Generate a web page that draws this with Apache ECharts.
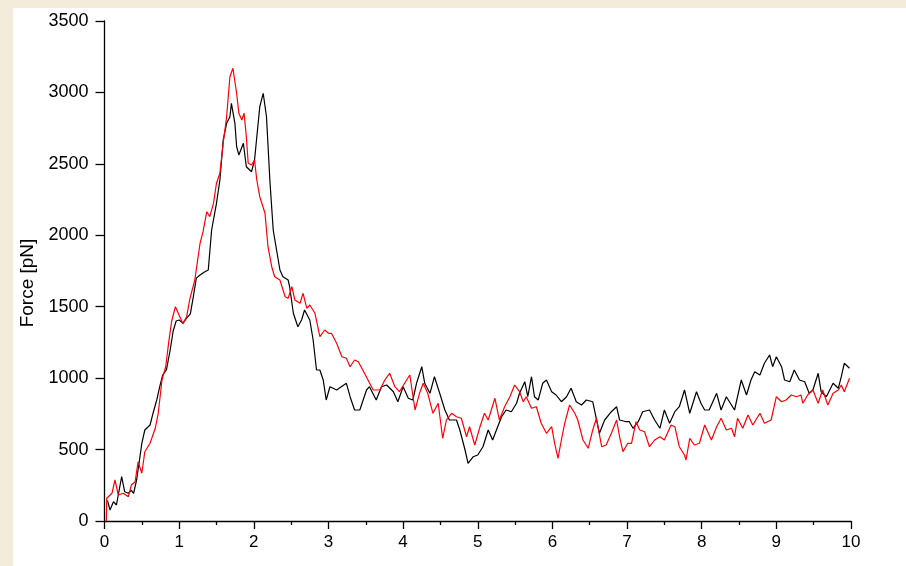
<!DOCTYPE html>
<html>
<head>
<meta charset="utf-8">
<script src="https://cdn.jsdelivr.net/npm/echarts@6/dist/echarts.min.js"></script>
<style>
  html, body { margin: 0; padding: 0; width: 906px; height: 566px; overflow: hidden; background: #f4ecda; }
  #chart { position: absolute; left: 13px; top: 8px; width: 893px; height: 558px; background: #ffffff; }
</style>
</head>
<body>
<div id="chart"></div>
<script>
// Force traces: [time, force in pN]
const traceBlack = [
  [0.04,142],[0.074,77],[0.12,135],[0.16,112],[0.23,310],[0.27,205],[0.32,194],[0.36,215],[0.39,194],[0.43,287],
  [0.475,450],[0.5,544],[0.54,637],[0.61,672],[0.65,754],[0.7,847],[0.74,940],[0.78,1022],[0.83,1060],[0.88,1197],
  [0.92,1330],[0.96,1400],[1.0,1407],[1.05,1385],[1.1,1420],[1.15,1450],[1.19,1570],[1.23,1700],[1.28,1722],[1.345,1745],
  [1.39,1757],[1.435,2037],[1.5,2224],[1.546,2387],[1.59,2667],[1.636,2784],[1.68,2830],[1.70,2924],[1.747,2784],[1.77,2620],
  [1.80,2562],[1.86,2644],[1.90,2480],[1.97,2445],[2.01,2527],[2.08,2900],[2.126,2994],[2.17,2830],[2.215,2387],[2.26,2037],
  [2.305,1897],[2.35,1757],[2.39,1710],[2.46,1687],[2.48,1640],[2.53,1454],[2.59,1360],[2.64,1407],[2.68,1477],[2.75,1407],
  [2.795,1267],[2.84,1057],[2.885,1057],[2.93,987],[2.97,847],[3.02,940],[3.11,917],[3.24,964],[3.29,870],[3.35,777],
  [3.42,777],[3.51,917],[3.55,940],[3.64,847],[3.71,940],[3.78,952],[3.87,905],[3.93,835],[4.0,940],[4.07,859],
  [4.13,847],[4.18,964],[4.25,1080],[4.29,964],[4.36,894],[4.42,1010],[4.49,894],[4.56,777],[4.62,707],[4.715,707],
  [4.76,637],[4.83,497],[4.87,404],[4.94,450],[5.0,462],[5.07,520],[5.14,637],[5.2,567],[5.25,637],[5.32,730],
  [5.38,777],[5.45,765],[5.52,824],[5.56,894],[5.63,975],[5.67,870],[5.72,1010],[5.76,870],[5.81,847],[5.87,964],
  [5.92,987],[5.99,905],[6.05,882],[6.12,835],[6.19,870],[6.25,929],[6.32,835],[6.39,812],[6.455,847],[6.54,835],
  [6.63,614],[6.70,707],[6.79,765],[6.86,800],[6.90,707],[6.99,695],[7.03,695],[7.08,649],[7.15,695],[7.21,765],
  [7.30,777],[7.37,707],[7.44,649],[7.50,777],[7.57,684],[7.64,765],[7.70,800],[7.77,917],[7.84,754],[7.93,905],
  [7.99,824],[8.04,777],[8.10,777],[8.20,894],[8.26,777],[8.33,870],[8.44,777],[8.53,987],[8.60,882],[8.66,987],
  [8.71,1045],[8.78,1022],[8.84,1104],[8.91,1162],[8.95,1080],[9.0,1150],[9.07,1080],[9.11,987],[9.18,975],[9.24,1057],
  [9.31,987],[9.38,975],[9.44,894],[9.49,917],[9.56,1034],[9.60,905],[9.67,870],[9.76,964],[9.83,929],[9.87,1010],
  [9.91,1104],[9.98,1069]
];

const traceRed = [
  [0.025,0],[0.03,159],[0.10,194],[0.14,287],[0.185,182],[0.25,194],[0.32,170],[0.36,252],[0.41,275],[0.45,415],
  [0.50,334],[0.54,485],[0.61,544],[0.68,649],[0.72,754],[0.77,987],[0.82,1080],[0.86,1250],[0.9,1400],[0.95,1500],
  [1.0,1440],[1.05,1380],[1.1,1430],[1.145,1559],[1.21,1687],[1.28,1944],[1.32,2025],[1.37,2165],[1.41,2130],[1.46,2224],
  [1.50,2364],[1.546,2434],[1.59,2644],[1.636,2830],[1.68,3110],[1.72,3169],[1.77,2994],[1.80,2854],[1.84,2807],[1.87,2854],
  [1.90,2690],[1.925,2504],[1.97,2492],[2.01,2527],[2.04,2387],[2.08,2270],[2.15,2154],[2.19,1920],[2.24,1780],[2.28,1710],
  [2.35,1687],[2.42,1570],[2.46,1559],[2.51,1640],[2.55,1547],[2.62,1524],[2.66,1594],[2.71,1489],[2.75,1512],[2.82,1454],
  [2.885,1290],[2.95,1337],[3.0,1314],[3.04,1314],[3.11,1244],[3.18,1150],[3.24,1139],[3.29,1080],[3.35,1127],[3.40,1115],
  [3.46,1057],[3.53,987],[3.60,917],[3.69,917],[3.755,987],[3.82,1034],[3.89,940],[3.95,905],[4.02,964],[4.09,1022],
  [4.16,777],[4.22,894],[4.27,964],[4.33,894],[4.40,754],[4.47,824],[4.53,579],[4.58,707],[4.65,754],[4.715,730],
  [4.78,719],[4.85,590],[4.89,660],[4.96,532],[5.03,660],[5.09,754],[5.14,707],[5.23,859],[5.29,707],[5.36,800],
  [5.43,870],[5.495,952],[5.56,905],[5.61,835],[5.65,870],[5.72,789],[5.785,800],[5.85,684],[5.92,614],[5.99,660],
  [6.03,544],[6.075,439],[6.12,567],[6.165,684],[6.23,812],[6.30,754],[6.34,707],[6.41,567],[6.48,509],[6.54,637],
  [6.59,719],[6.66,520],[6.72,532],[6.79,614],[6.86,707],[6.90,590],[6.945,485],[7.01,544],[7.06,544],[7.12,695],
  [7.17,637],[7.235,625],[7.30,520],[7.37,567],[7.44,590],[7.50,567],[7.59,672],[7.64,660],[7.70,520],[7.77,462],
  [7.79,427],[7.84,579],[7.90,532],[7.97,544],[8.04,672],[8.13,567],[8.20,660],[8.26,719],[8.33,637],[8.40,649],
  [8.44,590],[8.48,719],[8.55,649],[8.62,742],[8.685,672],[8.78,754],[8.84,684],[8.93,707],[9.0,870],[9.07,835],
  [9.13,847],[9.20,882],[9.27,870],[9.33,882],[9.355,824],[9.42,882],[9.49,917],[9.56,824],[9.62,917],[9.69,812],
  [9.76,894],[9.83,917],[9.87,952],[9.91,905],[9.98,999]
];

const xRange = [0, 10];
const yRange = [0, 3500];
const yTitle = 'Force [pN]';

const chart = echarts.init(document.getElementById('chart'), null, { renderer: 'canvas' });
const FONT = 'Liberation Sans';

chart.setOption({
  animation: false,
  backgroundColor: '#ffffff',
  textStyle: { fontFamily: FONT, fontSize: 18, color: '#000' },
  grid: { left: 91.5, right: 55, top: 13, bottom: 45, containLabel: false, outerBoundsMode: 'none' },
  xAxis: {
    type: 'value',
    min: xRange[0], max: xRange[1], interval: 1,
    axisLine: { show: true, lineStyle: { color: '#000', width: 1.3 } },
    axisTick: { show: true, length: 8, lineStyle: { color: '#000', width: 1.3 } },
    minorTick: { show: true, splitNumber: 2, length: 4, lineStyle: { color: '#000', width: 1.3 } },
    axisLabel: { margin: 13, color: '#000', fontFamily: FONT, fontSize: 17, formatter: v => String(v) },
    splitLine: { show: false }
  },
  yAxis: {
    type: 'value',
    min: yRange[0], max: yRange[1], interval: 500,
    name: yTitle,
    nameLocation: 'middle',
    nameGap: 67,
    nameRotate: 90,
    nameTextStyle: { color: '#000', fontFamily: FONT, fontSize: 19, padding: [0, 0, 0, -24] },
    axisLine: { show: true, lineStyle: { color: '#000', width: 1.3 } },
    axisTick: { show: true, length: 9, lineStyle: { color: '#000', width: 1.3 } },
    axisLabel: { margin: 16, color: '#000', fontFamily: FONT, fontSize: 18, formatter: v => String(v) },
    splitLine: { show: false }
  },
  series: [
    {
      type: 'line', data: traceBlack, showSymbol: false, symbol: 'none',
      lineStyle: { color: '#000000', width: 1.2 }, z: 2
    },
    {
      type: 'line', data: traceRed, showSymbol: false, symbol: 'none',
      lineStyle: { color: '#ff0000', width: 1.2 }, z: 3
    }
  ]
});
</script>
</body>
</html>
